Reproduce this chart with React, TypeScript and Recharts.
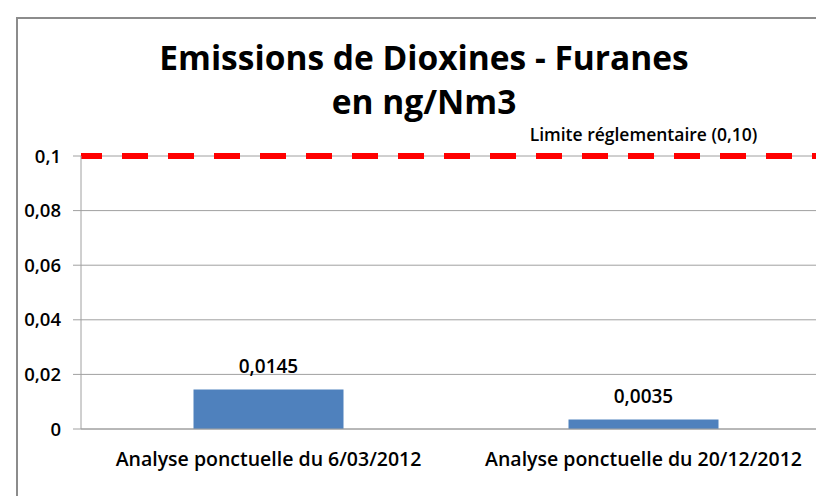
import React from 'react';
import {
  ComposedChart, Bar, XAxis, YAxis, CartesianGrid, ReferenceLine, LabelList,
} from 'recharts';

const categories = ['Analyse ponctuelle du 6/03/2012', 'Analyse ponctuelle du 20/12/2012'];
const emissions = [0.0145, 0.0035];
const yTicks = [0, 0.02, 0.04, 0.06, 0.08, 0.1];
const edgeTicks = [0, 1, 2];
const limitValue = 0.1;
const limitLabel = 'Limite réglementaire (0,10)';
const titleLines = ['Emissions de Dioxines - Furanes', 'en ng/Nm3'];

const FONT = '"Open Sans", "Noto Sans", sans-serif';
const GRID = '#a0a0a0';
const BAR = '#4f81bd';

const data = categories.map((name, i) => ({ name, value: emissions[i] }));

// virgule décimale
const fr = (v: number) => String(v).replace('.', ',');

export default function App() {
  return (
    <div
      style={{
        position: 'fixed', left: 0, top: 0, width: 816, height: 496,
        overflow: 'hidden', background: '#fff', fontFamily: FONT,
      }}
    >
      <div
        style={{
          position: 'absolute', left: 16, top: 17, width: 900, height: 600,
          border: '2px solid #8c8c8c', boxSizing: 'border-box',
        }}
      />
      <div
        style={{
          position: 'absolute', left: 74, width: 700, top: 35,
          textAlign: 'center', fontWeight: 700, fontSize: 33.5, lineHeight: '44px', color: '#000',
        }}
      >
        {titleLines.map(l => <div key={l}>{l}</div>)}
      </div>
      <div style={{ position: 'absolute', left: 0, top: 0 }}>
        <ComposedChart
          width={831}
          height={496}
          data={data}
          margin={{ top: 156, right: 0, bottom: 16, left: 0 }}
          barCategoryGap="30%"
        >
          <CartesianGrid vertical={false} stroke={GRID} />
          <XAxis
            xAxisId="edges"
            type="number"
            domain={[0, 2]}
            ticks={edgeTicks}
            tickFormatter={() => ''}
            tickSize={8}
            axisLine={false}
            height={0}
            stroke={GRID}
          />
          <XAxis
            dataKey="name"
            tickLine={false}
            tickSize={8}
            tickMargin={15}
            height={51}
            stroke={GRID}
            tick={{ fill: '#000', fontSize: 19.5, fontWeight: 600, fontFamily: FONT }}
          />
          <YAxis
            type="number"
            domain={[0, 0.1]}
            ticks={yTicks}
            tickFormatter={fr}
            width={81}
            tickSize={8}
            tickMargin={12}
            stroke={GRID}
            tick={{ fill: '#000', fontSize: 18.5, fontWeight: 600, fontFamily: FONT }}
          />
          <Bar dataKey="value" fill={BAR} isAnimationActive={false}>
            <LabelList
              dataKey="value"
              position="top"
              offset={16}
              formatter={(v: any) => fr(Number(v))}
              style={{ fill: '#000', fontSize: 19, fontWeight: 600, fontFamily: FONT }}
            />
          </Bar>
          <ReferenceLine
            y={limitValue}
            stroke="#ff0000"
            strokeWidth={6}
            strokeDasharray="26 20"
            strokeDashoffset={5}
            label={(props: any) => {
              const vb = props.viewBox || {};
              return (
                <text
                  x={vb.x + vb.width * 0.75}
                  y={vb.y - 15}
                  textAnchor="middle"
                  fontSize={17.5}
                  fontWeight={600}
                  fontFamily={FONT}
                  fill="#000"
                >
                  {limitLabel}
                </text>
              );
            }}
          />
        </ComposedChart>
      </div>
    </div>
  );
}
